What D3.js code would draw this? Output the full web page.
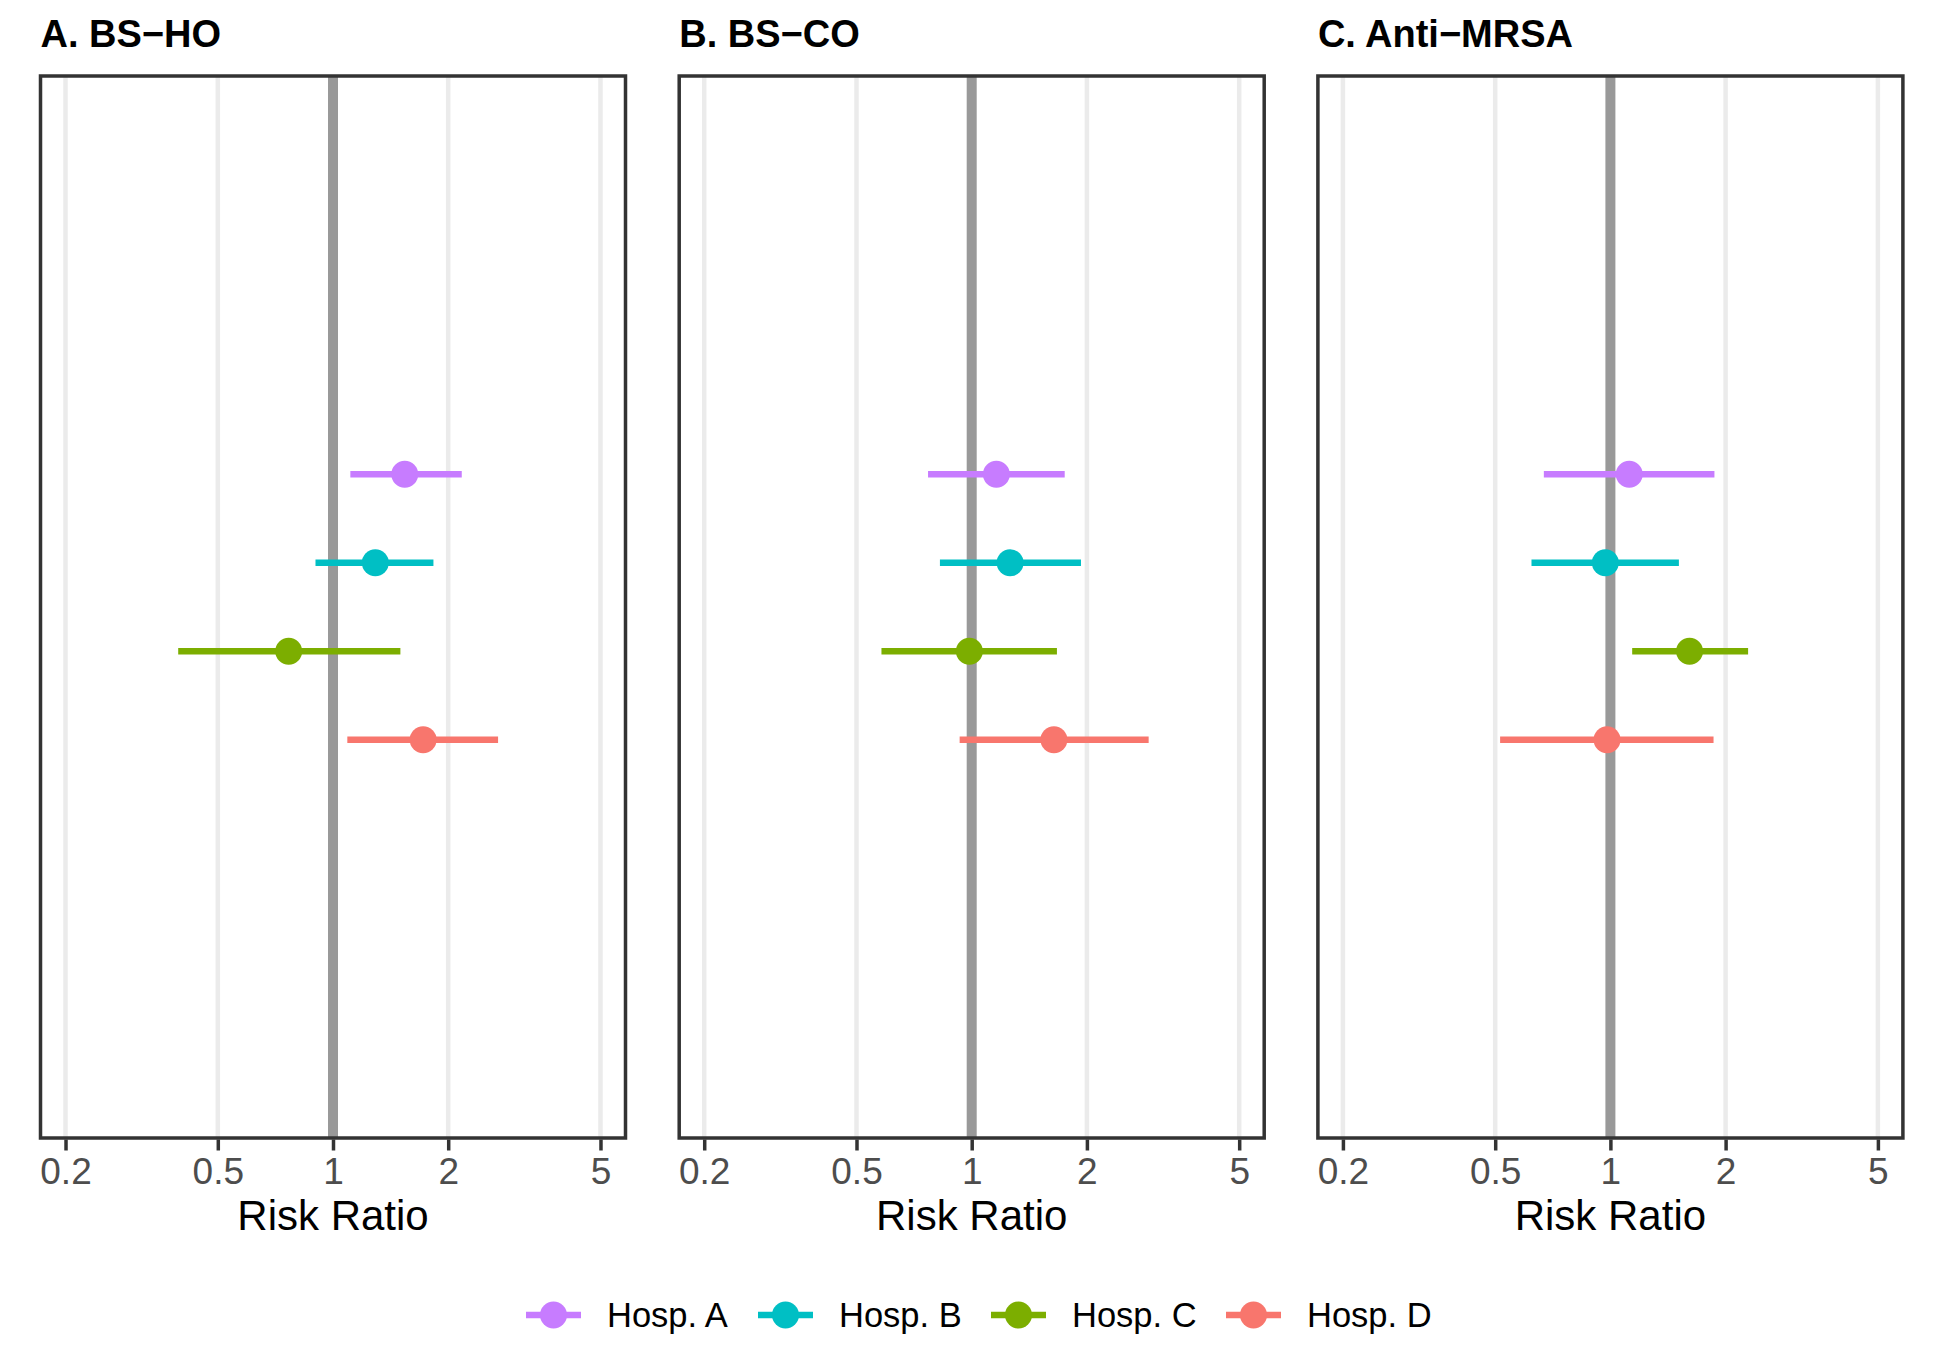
<!DOCTYPE html>
<html>
<head>
<meta charset="utf-8">
<script src="https://cdn.jsdelivr.net/npm/d3@7"></script>
<style>
  html, body { margin: 0; padding: 0; background: #ffffff; }
  svg { display: block; }
</style>
</head>
<body>
<script>
// ---------------- DATA ----------------
const hospitals = ["Hosp. A", "Hosp. B", "Hosp. C", "Hosp. D"];
const hospColors = ["#C77CFF", "#00BFC4", "#7CAE00", "#F8766D"];
const panelTitles = ["A. BS\u2212HO", "B. BS\u2212CO", "C. Anti\u2212MRSA"];

// Risk ratios (point estimate, lower CI, upper CI), one entry per hospital
const rrBSHO   = [1.54, 1.29, 0.766, 1.72];
const lowBSHO  = [1.11, 0.90, 0.394, 1.09];
const highBSHO = [2.17, 1.83, 1.50, 2.70];

const rrBSCO   = [1.16, 1.26, 0.986, 1.64];
const lowBSCO  = [0.769, 0.826, 0.581, 0.93];
const highBSCO = [1.75, 1.93, 1.67, 2.90];

const rrMRSA   = [1.12, 0.97, 1.61, 0.98];
const lowMRSA  = [0.670, 0.622, 1.14, 0.515];
const highMRSA = [1.87, 1.51, 2.29, 1.86];

const tickValues = [0.2, 0.5, 1, 2, 5];
const tickLabels = ["0.2", "0.5", "1", "2", "5"];
const xAxisTitle = "Risk Ratio";
const refValue = 1;

// ---------------- LAYOUT ----------------
const W = 1942, H = 1366;
const panelLeft0 = 40.5, panelWidth = 585, panelStep = 638.7;
const panelTop = 76, panelBottom = 1138;
const font = "'Liberation Sans', Arial, Helvetica, sans-serif";

const panelsData = [
  { title: panelTitles[0], rr: rrBSHO, low: lowBSHO, high: highBSHO },
  { title: panelTitles[1], rr: rrBSCO, low: lowBSCO, high: highBSCO },
  { title: panelTitles[2], rr: rrMRSA, low: lowMRSA, high: highMRSA }
];

const svg = d3.select("body").append("svg")
  .attr("width", W).attr("height", H)
  .style("font-family", font);

svg.append("rect").attr("width", W).attr("height", H).attr("fill", "#fff");

// y: single discrete category at 1, dodged by hospital (width 0.4)
const y = d3.scaleLinear().domain([0.4, 1.6]).range([panelBottom, panelTop]);
const dodge = d3.scalePoint().domain(hospitals).range([1.15, 0.85]);
const color = d3.scaleOrdinal().domain(hospitals).range(hospColors);

const expand = 0.1505;
panelsData.forEach((p, i) => {
  const left = panelLeft0 + i * panelStep;
  const right = left + panelWidth;
  const x = d3.scaleLog()
    .domain([0.2 * Math.exp(-expand), 5 * Math.exp(expand)])
    .range([left, right]);

  const g = svg.append("g");

  // title
  g.append("text")
    .attr("x", left).attr("y", 47)
    .attr("font-size", 38).attr("font-weight", "bold")
    .attr("fill", "#000")
    .text(p.title);

  // gridlines
  g.selectAll("line.grid").data(tickValues).join("line")
    .attr("class", "grid")
    .attr("x1", d => x(d)).attr("x2", d => x(d))
    .attr("y1", panelTop).attr("y2", panelBottom)
    .attr("stroke", "#ebebeb").attr("stroke-width", 4.5);

  // reference line at 1
  g.append("line")
    .attr("x1", x(refValue)).attr("x2", x(refValue))
    .attr("y1", panelTop).attr("y2", panelBottom)
    .attr("stroke", "#999999").attr("stroke-width", 10);

  const rows = hospitals.map((h, k) => ({ h, rr: p.rr[k], low: p.low[k], high: p.high[k] }));

  // error bars
  g.selectAll("line.ci").data(rows).join("line")
    .attr("class", "ci")
    .attr("x1", d => x(d.low)).attr("x2", d => x(d.high))
    .attr("y1", d => y(dodge(d.h))).attr("y2", d => y(dodge(d.h)))
    .attr("stroke", d => color(d.h)).attr("stroke-width", 6.5);

  // points
  g.selectAll("circle.pt").data(rows).join("circle")
    .attr("class", "pt")
    .attr("cx", d => x(d.rr)).attr("cy", d => y(dodge(d.h)))
    .attr("r", 13.5)
    .attr("fill", d => color(d.h));

  // panel border
  g.append("rect")
    .attr("x", left).attr("y", panelTop)
    .attr("width", panelWidth).attr("height", panelBottom - panelTop)
    .attr("fill", "none").attr("stroke", "#333333").attr("stroke-width", 3.5);

  // x axis
  const axis = d3.axisBottom(x)
    .tickValues(tickValues)
    .tickFormat((d, k) => tickLabels[k])
    .tickSize(11).tickPadding(7);
  const ax = g.append("g").attr("transform", `translate(0,${panelBottom + 1.5})`).call(axis);
  ax.select(".domain").remove();
  ax.selectAll(".tick line").attr("stroke", "#333333").attr("stroke-width", 3.5);
  ax.selectAll(".tick text")
    .attr("font-size", 37).attr("fill", "#4d4d4d")
    .attr("font-family", font)
    .attr("dy", null).attr("y", 44);

  // axis title
  g.append("text")
    .attr("x", (left + right) / 2).attr("y", 1230)
    .attr("text-anchor", "middle")
    .attr("font-size", 42).attr("fill", "#000")
    .text(xAxisTitle);
});

// ---------------- LEGEND ----------------
const legendKeyX = [526, 758, 991, 1226];
const legendY = 1315;
const leg = svg.append("g");
hospitals.forEach((h, k) => {
  const kx = legendKeyX[k];
  leg.append("line")
    .attr("x1", kx).attr("x2", kx + 55)
    .attr("y1", legendY).attr("y2", legendY)
    .attr("stroke", color(h)).attr("stroke-width", 6.5);
  leg.append("circle")
    .attr("cx", kx + 27.5).attr("cy", legendY).attr("r", 13.5)
    .attr("fill", color(h));
  leg.append("text")
    .attr("x", kx + 81).attr("y", legendY + 12)
    .attr("font-size", 34.5).attr("fill", "#000")
    .text(h);
});
</script>
</body>
</html>
